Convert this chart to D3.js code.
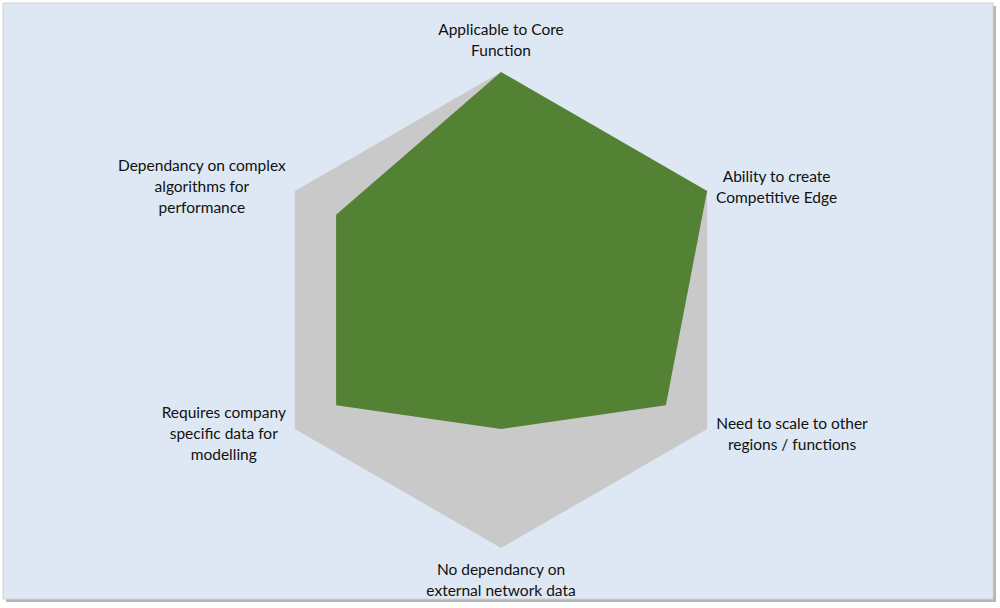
<!DOCTYPE html>
<html>
<head>
<meta charset="utf-8">
<script src="https://cdn.jsdelivr.net/npm/d3@7"></script>
<style>
  html, body { margin: 0; padding: 0; background: #ffffff; }
  svg { display: block; }
  .lbl { font-family: Lato, "Open Sans", sans-serif; font-size: 15.5px; fill: #111; }
</style>
</head>
<body>
<div id="chart"></div>
<script>
// radar chart: gray full-scale hexagon behind a green score polygon
var axes = [
  ["Applicable to Core", "Function"],
  ["Ability to create", "Competitive Edge"],
  ["Need to scale to other", "regions / functions"],
  ["No dependancy on", "external network data"],
  ["Requires company", "specific data for", "modelling"],
  ["Dependancy on complex", "algorithms for", "performance"]
];
var maxValues = [10, 10, 10, 10, 10, 10];
var scores = [10, 10, 8, 5, 8, 8];
var domainMax = 10;

var W = 1000, H = 608;
var cx = 501, cy = 310, R = 238;

var svg = d3.select("#chart").append("svg").attr("width", W).attr("height", H);

// frame with soft shadow
svg.append("rect").attr("x", 6).attr("y", 6).attr("width", 990).attr("height", 596).attr("fill", "#b4b4b4");
svg.append("rect").attr("x", 3).attr("y", 3).attr("width", 990).attr("height", 596)
  .attr("fill", "#dde8f4").attr("stroke", "#d4d4d4").attr("stroke-width", 1);

var r = d3.scaleLinear().domain([0, domainMax]).range([0, R]);
var angle = d3.scalePoint().domain(d3.range(axes.length)).range([0, 2 * Math.PI * (axes.length - 1) / axes.length]);

var line = d3.lineRadial()
  .angle(function (d, i) { return angle(i); })
  .radius(function (d) { return r(d); })
  .curve(d3.curveLinearClosed);

var g = svg.append("g").attr("transform", "translate(" + cx + "," + cy + ")");

g.append("path").attr("d", line(maxValues)).attr("fill", "#c9c9c9");
g.append("path").attr("d", line(scores)).attr("fill", "#548235");

// axis labels
var lh = 21;
axes.forEach(function (lines, i) {
  var a = angle(i);
  var vx = Math.sin(a) * R, vy = -Math.cos(a) * R;
  var t = g.append("text").attr("class", "lbl").attr("text-anchor", "middle");
  lines.forEach(function (s, k) {
    t.append("tspan").attr("x", 0).attr("dy", k === 0 ? 0 : lh).text(s);
  });
  var bb = t.node().getBBox();
  var n = lines.length;
  var blockH = (n - 1) * lh;
  var x, y;
  if (Math.abs(vx) < 1) {
    x = vx;
    if (vy < 0) y = vy - 16 - blockH;   // baseline of last line above vertex
    else y = vy + 27;                    // first baseline below vertex
  } else {
    var gap = 9;
    x = vx > 0 ? vx + gap + bb.width / 2 : vx - gap - bb.width / 2;
    var shift = vy < 0 ? -4 : 5;
    y = vy + shift - blockH / 2 + 5;
  }
  t.attr("transform", "translate(" + x + "," + y + ")");
});
</script>
</body>
</html>
